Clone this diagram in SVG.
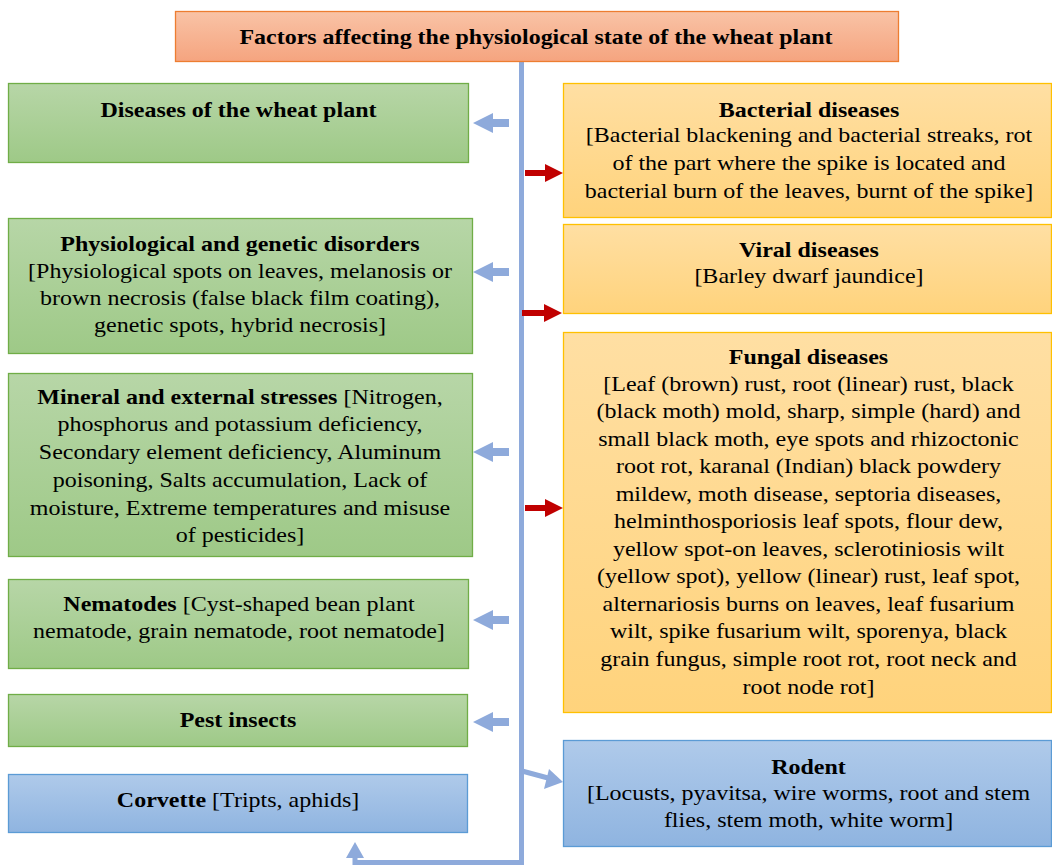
<svg xmlns="http://www.w3.org/2000/svg" width="1052" height="867" viewBox="0 0 1052 867">
<defs>
<linearGradient id="gGreen" x1="0" y1="0" x2="0" y2="1"><stop offset="0" stop-color="#b7d6a7"/><stop offset="1" stop-color="#9ec987"/></linearGradient>
<linearGradient id="gOrange" x1="0" y1="0" x2="0" y2="1"><stop offset="0" stop-color="#ffdfa3"/><stop offset="1" stop-color="#ffd37c"/></linearGradient>
<linearGradient id="gBlue" x1="0" y1="0" x2="0" y2="1"><stop offset="0" stop-color="#afcaea"/><stop offset="1" stop-color="#8fb4e0"/></linearGradient>
<linearGradient id="gTitle" x1="0" y1="0" x2="0" y2="1"><stop offset="0" stop-color="#f9c3a6"/><stop offset="1" stop-color="#f5a47f"/></linearGradient>
</defs>
<style>
text{font-family:'Liberation Serif','Times New Roman','DejaVu Serif',serif;font-size:21px;fill:#000;text-anchor:middle}
.b{font-weight:bold}
.green{fill:url(#gGreen);stroke:#70ad47;stroke-width:1.3}
.orange{fill:url(#gOrange);stroke:#ffc000;stroke-width:1.3}
.blue{fill:url(#gBlue);stroke:#5b9bd5;stroke-width:1.3}
.title{fill:url(#gTitle);stroke:#ed7d31;stroke-width:1.3}
.ba{fill:#8eaadb}
.ra{fill:#c00000}
</style>

<g id="connectors">
<path d="M521.5,61 V862.5 H355 V857" fill="none" stroke="#8eaadb" stroke-width="5"/>
<polygon points="346,858 364,858 355,842" class="ba"/>
<path d="M522,771 L548,778" fill="none" stroke="#8eaadb" stroke-width="5"/>
<polygon points="563,782 544,789 549,769" class="ba"/>
<polygon points="509,119 493,119 493,113 473,123 493,133 493,127 509,127" class="ba"/>
<polygon points="509,268 493,268 493,262 473,272 493,282 493,276 509,276" class="ba"/>
<polygon points="509,448 493,448 493,442 473,452 493,462 493,456 509,456" class="ba"/>
<polygon points="509,616 493,616 493,610 473,620 493,630 493,624 509,624" class="ba"/>
<polygon points="509,718 493,718 493,712 473,722 493,732 493,726 509,726" class="ba"/>
<polygon points="525,170 545,170 545,164 563,173 545,182 545,176 525,176" class="ra"/>
<polygon points="522,310 544,310 544,304 562,313 544,322 544,316 522,316" class="ra"/>
<polygon points="525,505 545,505 545,499 563,508 545,517 545,511 525,511" class="ra"/>
</g>

<g id="title">
<rect x="175.5" y="11.5" width="723" height="50" class="title"/>
<text x="536" y="44" class="b" textLength="593" lengthAdjust="spacingAndGlyphs">Factors affecting the physiological state of the wheat plant</text>
</g>

<g id="diseases">
<rect x="8.5" y="83.5" width="460" height="79" class="green"/>
<g transform="matrix(1.143,0,0,1,-34.1,0)">
<text x="238.5" y="117" class="b">Diseases of the wheat plant</text>
</g>
</g>

<g id="physiological">
<rect x="8.5" y="218.5" width="464" height="135" class="green"/>
<g transform="matrix(1.143,0,0,1,-34.3,0)">
<text x="240" y="251" class="b">Physiological and genetic disorders</text>
<text x="240" y="278">[Physiological spots on leaves, melanosis or</text>
<text x="240" y="305">brown necrosis (false black film coating),</text>
<text x="240" y="332">genetic spots, hybrid necrosis]</text>
</g>
</g>

<g id="mineral">
<rect x="8.5" y="373.5" width="464" height="183" class="green"/>
<g transform="matrix(1.143,0,0,1,-34.3,0)">
<text x="240" y="404"><tspan class="b">Mineral and external stresses</tspan> [Nitrogen,</text>
<text x="240" y="431">phosphorus and potassium deficiency,</text>
<text x="240" y="459">Secondary element deficiency, Aluminum</text>
<text x="240" y="487">poisoning, Salts accumulation, Lack of</text>
<text x="240" y="515">moisture, Extreme temperatures and misuse</text>
<text x="240" y="542">of pesticides]</text>
</g>
</g>

<g id="nematodes">
<rect x="8.5" y="579.5" width="460" height="89" class="green"/>
<g transform="matrix(1.143,0,0,1,-34.2,0)">
<text x="239" y="611"><tspan class="b">Nematodes</tspan> [Cyst-shaped bean plant</text>
<text x="239" y="638">nematode, grain nematode, root nematode]</text>
</g>
</g>

<g id="pests">
<rect x="8.5" y="694.5" width="459" height="52" class="green"/>
<g transform="matrix(1.143,0,0,1,-34,0)">
<text x="238" y="727" class="b">Pest insects</text>
</g>
</g>

<g id="corvette">
<rect x="8.5" y="774.5" width="459" height="58" class="blue"/>
<g transform="matrix(1.143,0,0,1,-34,0)">
<text x="238" y="807"><tspan class="b">Corvette</tspan> [Tripts, aphids]</text>
</g>
</g>

<g id="bacterial">
<rect x="563.5" y="83.5" width="488" height="134" class="orange"/>
<g transform="matrix(1.143,0,0,1,-115.7,0)">
<text x="809" y="117" class="b">Bacterial diseases</text>
<text x="809" y="142">[Bacterial blackening and bacterial streaks, rot</text>
<text x="809" y="170">of the part where the spike is located and</text>
<text x="809" y="198">bacterial burn of the leaves, burnt of the spike]</text>
</g>
</g>

<g id="viral">
<rect x="563.5" y="224.5" width="488" height="89" class="orange"/>
<g transform="matrix(1.143,0,0,1,-115.7,0)">
<text x="809" y="257" class="b">Viral diseases</text>
<text x="809" y="283">[Barley dwarf jaundice]</text>
</g>
</g>

<g id="fungal">
<rect x="563.5" y="332.5" width="488" height="380" class="orange"/>
<g transform="matrix(1.143,0,0,1,-115.6,0)">
<text x="808.5" y="364" class="b">Fungal diseases</text>
<text x="808.5" y="391">[Leaf (brown) rust, root (linear) rust, black</text>
<text x="808.5" y="418">(black moth) mold, sharp, simple (hard) and</text>
<text x="808.5" y="446">small black moth, eye spots and rhizoctonic</text>
<text x="808.5" y="473">root rot, karanal (Indian) black powdery</text>
<text x="808.5" y="501">mildew, moth disease, septoria diseases,</text>
<text x="808.5" y="528">helminthosporiosis leaf spots, flour dew,</text>
<text x="808.5" y="556">yellow spot-on leaves, sclerotiniosis wilt</text>
<text x="808.5" y="583">(yellow spot), yellow (linear) rust, leaf spot,</text>
<text x="808.5" y="611">alternariosis burns on leaves, leaf fusarium</text>
<text x="808.5" y="638">wilt, spike fusarium wilt, sporenya, black</text>
<text x="808.5" y="666">grain fungus, simple root rot, root neck and</text>
<text x="808.5" y="694">root node rot]</text>
</g>
</g>

<g id="rodent">
<rect x="563.5" y="740.5" width="488" height="106" class="blue"/>
<g transform="matrix(1.143,0,0,1,-115.6,0)">
<text x="808.5" y="774" class="b">Rodent</text>
<text x="808.5" y="800">[Locusts, pyavitsa, wire worms, root and stem</text>
<text x="808.5" y="827">flies, stem moth, white worm]</text>
</g>
</g>
</svg>
